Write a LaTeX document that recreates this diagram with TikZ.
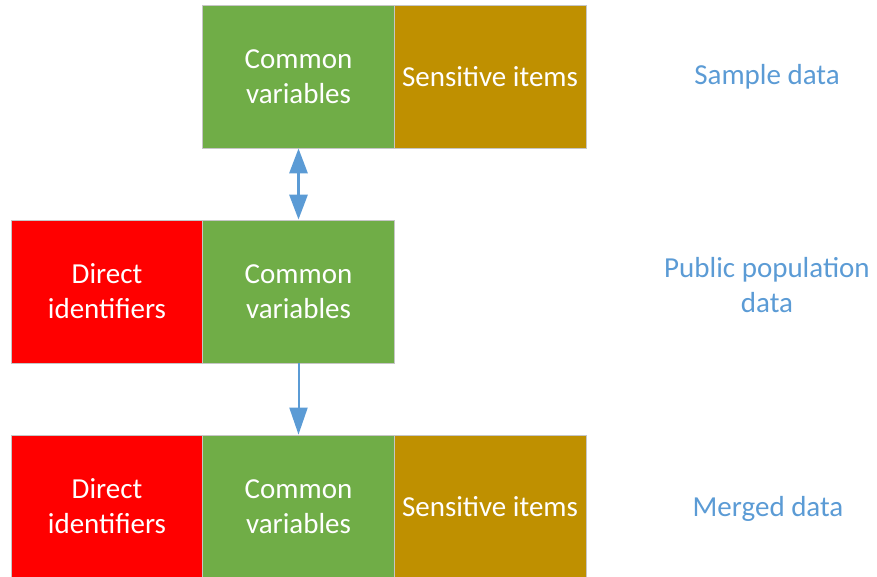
\documentclass[tikz,border=0pt]{standalone}
\usepackage{fontspec}
\setmainfont{Carlito}
\usetikzlibrary{arrows.meta}
\definecolor{commongreen}{HTML}{70AD47}
\definecolor{sensgold}{HTML}{BF9000}
\definecolor{directred}{HTML}{FF0000}
\definecolor{linkblue}{HTML}{5B9BD5}
\tikzset{
    cell/.style = {draw=gray!45, line width=0.8pt, minimum width=192pt,
        minimum height=143pt, inner sep=0pt, text=white, align=center,
        font=\fontsize{29}{35}\selectfont},
    tag/.style = {text=linkblue, align=center, font=\fontsize{29}{35}\selectfont},
    link/.style = {draw=linkblue}
}

\begin{document}
\begin{tikzpicture}[x=1pt, y=-1pt]
    \useasboundingbox (0, 0) rectangle (877, 577);

    \node[cell, fill=commongreen] (sg) at (298.5, 76.5) {Common\\variables};
    \node[cell, fill=sensgold] (ss) at (490, 76.5) {Sensitive items};

    \node[cell, fill=directred] (pd) at (107, 291.5) {Direct\\identifiers};
    \node[cell, fill=commongreen] (pg) at (298.5, 291.5) {Common\\variables};

    \node[cell, fill=directred] (md) at (107, 506.5) {Direct\\identifiers};
    \node[cell, fill=commongreen] (mg) at (298.5, 506.5) {Common\\variables};
    \node[cell, fill=sensgold] (ms) at (490, 506.5) {Sensitive items};

    \node[tag] (sample) at (767, 77) {Sample data};
    \node[tag] (public) at (767, 285) {Public population\\data};
    \node[tag] (merged) at (768, 509) {Merged data};

    \draw[link, line width=3pt, {Triangle[width=18pt, length=25pt]}-{Triangle[width=18pt, length=25pt]}]
        (sg.south) -- (pg.north);
    \draw[link, line width=2pt, -{Triangle[width=18pt, length=27pt]}]
        (pg.south) -- (mg.north);
\end{tikzpicture}
\end{document}
